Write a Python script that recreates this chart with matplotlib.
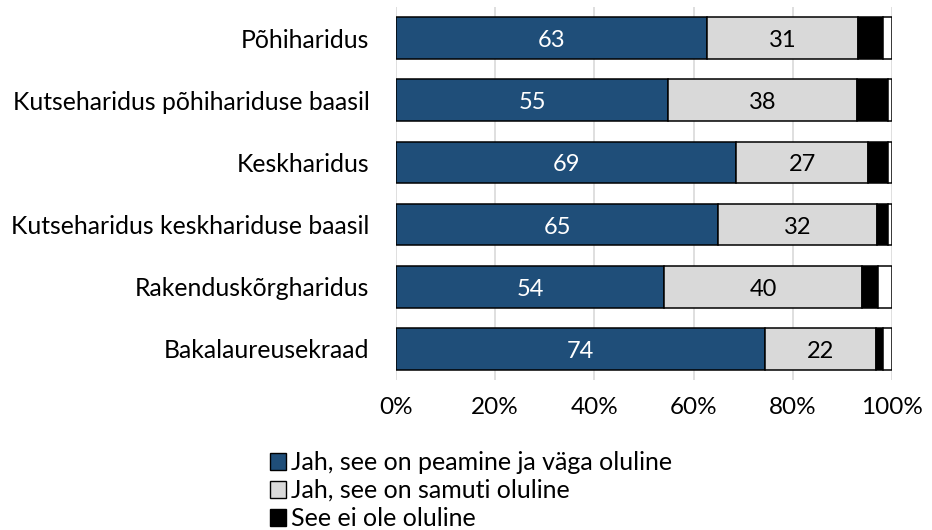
import matplotlib
matplotlib.use("Agg")
import matplotlib.pyplot as plt
import numpy as np
from matplotlib.patches import Patch

plt.rcParams['font.family'] = ['Lato', 'DejaVu Sans']

# Données (en %)
categories = ["Põhiharidus", "Kutseharidus põhihariduse baasil", "Keskharidus",
              "Kutseharidus keskhariduse baasil", "Rakenduskõrgharidus", "Bakalaureusekraad"]
peamine = [62.6, 54.9, 68.6, 65.0, 54.0, 74.4]
samuti = [30.6, 38.1, 26.6, 31.9, 40.0, 22.4]
ei_ole = [5.0, 6.1, 3.9, 2.2, 3.2, 1.3]
ei_oska = [1.8, 0.9, 0.9, 0.9, 2.8, 1.9]

series_names = ["Jah, see on peamine ja väga oluline", "Jah, see on samuti oluline",
                "See ei ole oluline", "Ei oska öelda"]
colors = ["#1f4e79", "#d9d9d9", "#000000", "#ffffff"]
text_colors = ["white", "black", None, None]

fig = plt.figure(figsize=(9.32, 5.30), dpi=100)
ax = fig.add_axes([0.4249, 0.283, 0.5322, 0.7038])

y = np.arange(len(categories))
left = np.zeros(len(categories))
for vals, col, tcol in zip([peamine, samuti, ei_ole, ei_oska], colors, text_colors):
    vals = np.array(vals)
    ax.barh(y, vals, left=left, height=0.67, color=col, edgecolor="black",
            linewidth=1.1, zorder=3)
    if tcol is not None:
        for yi, l, v in zip(y, left, vals):
            ax.text(l + v / 2, yi + 0.04, f"{round(v)}", ha="center", va="center",
                    color=tcol, fontsize=17, zorder=4)
    left += vals

ax.set_xlim(0, 100)
ax.set_ylim(len(categories) - 0.5, -0.5)
ax.set_yticks(y)
ax.set_yticklabels(categories, fontsize=17.8)
ax.set_xticks(np.arange(0, 101, 20))
ax.set_xticklabels([f"{t}%" for t in range(0, 101, 20)], fontsize=17.5)
ax.tick_params(axis="both", length=0)
ax.tick_params(axis="x", pad=12)
ax.tick_params(axis="y", pad=19)
ax.grid(axis="x", color="#d9d9d9", linewidth=1.2, zorder=0)
for s in ax.spines.values():
    s.set_visible(False)

handles = [Patch(facecolor=c, edgecolor="black", linewidth=1) for c in colors[:3]]
fig.legend(handles, series_names[:3], loc="upper left", bbox_to_anchor=(0.2897, 0.149),
           frameon=False, fontsize=18, handlelength=0.65, handleheight=0.65,
           handletextpad=0.2, labelspacing=0.2, borderpad=0, borderaxespad=0)

fig.savefig("out.png", dpi=100)
